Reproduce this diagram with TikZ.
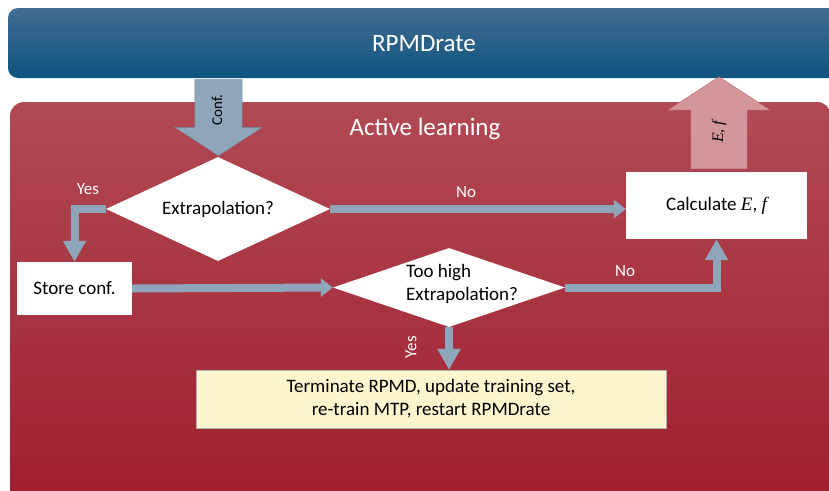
\documentclass[tikz,border=0pt]{standalone}
\usepackage{fontspec}
\setmainfont{Carlito}
\newfontfamily\efont{Liberation Serif}
\newcommand{\itvar}[1]{{\efont\itshape #1}}
\usetikzlibrary{shapes.geometric,shapes.arrows,arrows.meta}
\definecolor{barhi}{RGB}{66,108,144}
\definecolor{barlo}{RGB}{14,84,128}
\definecolor{boxhi}{RGB}{176,74,84}
\definecolor{boxlo}{RGB}{160,28,45}
\definecolor{flowc}{RGB}{143,165,186}
\definecolor{flowd}{RGB}{112,136,160}
\definecolor{pinkc}{RGB}{211,150,155}
\definecolor{pinkd}{RGB}{180,95,105}
\definecolor{notec}{RGB}{252,245,206}
\begin{document}
\begin{tikzpicture}[x=1pt,y=-1pt,
	txt/.style={font=\fontsize{19}{23}\selectfont},
	title/.style={font=\fontsize{25}{30}\selectfont,text=white},
	lbl/.style={font=\fontsize{17}{20}\selectfont,text=white},
	decision/.style={diamond,fill=white,inner sep=0pt,txt},
	block/.style={rectangle,fill=white,inner sep=0pt,txt},
	flow/.style={line width=8pt,draw=flowc},
	tipH/.style={-{Triangle[length=12pt,width=18pt]}},
	tipV/.style={-{Triangle[length=21pt,width=22pt]}},
	fat/.style={single arrow,single arrow tip angle=114,inner xsep=0pt,rotate=90}]
	\useasboundingbox (0,0) rectangle (829,490);
	\clip (0,0) rectangle (829,490);
	\shade[top color=barhi,bottom color=barlo,rounded corners=10pt] (8,8) rectangle (850,78);
	\shade[top color=boxhi,bottom color=boxlo,rounded corners=14pt] (10,102) rectangle (831,520);
	\node[title] (rpmd) at (424,44) {RPMDrate};
	\node[title] (al) at (425,129) {Active learning};
	\node[decision,aspect=2.15,minimum width=224pt,minimum height=104pt] (extr) at (218,209) {Extrapolation?};
	\node[block,minimum width=181pt,minimum height=67pt] (calc) at (716.5,205.5) {Calculate \itvar{E}, \itvar{f}};
	\node[block,minimum width=115pt,minimum height=53pt] (store) at (74.5,288.5) {Store conf.};
	\node[decision,minimum width=232pt,minimum height=79pt] (high) at (449,287.5) {};
	\node[txt,align=left] (hight) at (462,284) {Too high\\Extrapolation?};
	\node[block,fill=notec,draw=gray!60,thin,minimum width=470pt,minimum height=58pt,align=center] (term) at (431,399) {Terminate RPMD, update training set,\\re-train MTP, restart RPMDrate};
	\node[fat,shape border rotate=180,fill=flowc,draw=flowd,text height=10pt,text depth=3pt,inner ysep=17pt,minimum height=76pt,single arrow head extend=20pt,font=\fontsize{15}{17}\selectfont] (conf) at (218.5,110) {Conf.};
	\node[fat,fill=pinkc,draw=pinkd,text height=12pt,text depth=4pt,inner ysep=20pt,minimum height=92pt,single arrow head extend=23pt,font=\fontsize{16}{19}\selectfont] (ef) at (719,132) {\itvar{E}, \itvar{f}};
	\draw[flow,tipV] (extr.west) -| (store.north);
	\draw[flow,tipH] (extr.east) -- (extr.east -| calc.west);
	\draw[flow,tipH] (store.east) -- (high.west);
	\draw[flow,tipV] (high.east) -| (calc.south);
	\draw[flow,tipV] (high.south) -- (high.south |- term.north);
	\node[lbl] (yes1) at (88,189) {Yes};
	\node[lbl] (no1) at (466,192) {No};
	\node[lbl] (no2) at (625,271) {No};
	\node[lbl,rotate=90] (yes2) at (411,347) {Yes};
\end{tikzpicture}
\end{document}
